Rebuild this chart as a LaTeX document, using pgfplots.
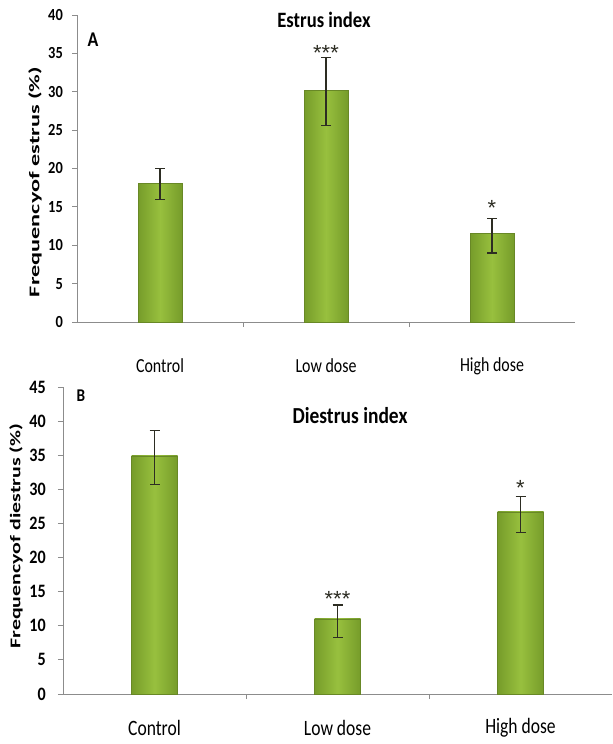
\documentclass[border=0pt]{standalone}
\usepackage{pgfplots}
\pgfplotsset{compat=1.18}
\usepackage{pgfplotstable}
\usepackage{fontspec}
\setmainfont{Carlito}
\newfontfamily\cond{Carlito}[FakeStretch=0.8]
\newfontfamily\condb{Carlito Bold}[FakeStretch=0.85]
\newfontfamily\starf{Liberation Sans}
\definecolor{barmid}{RGB}{152,192,62}
\definecolor{barside}{RGB}{118,156,42}
\definecolor{baredge}{RGB}{104,136,38}
\definecolor{axgray}{RGB}{140,140,140}
\definecolor{errc}{RGB}{45,45,35}

\pgfplotstableread{
x y ep em
0 18.1 1.95 2.1
1 30.2 4.3 4.6
2 11.55 1.95 2.55
}\estrus
\pgfplotstableread{
x y ep em
0 34.9 3.7 4.2
1 11.0 2.05 2.75
2 26.7 2.3 3.05
}\diestrus

\pgfplotsset{
  panel/.style={
    scale only axis,
    xmin=-0.5, xmax=2.5, ymin=0,
    axis x line*=bottom, axis y line*=left,
    axis line style={axgray, line width=0.9bp, -},
    tick align=outside,
    major tick length=5bp, minor tick length=5bp,
    xtick={0,1,2},
    xticklabels={Control, Low dose, High dose},
    major x tick style={draw=none},
    minor x tick num=1,
    minor x tick style={draw=axgray, line width=0.6bp},
    y tick style={draw=axgray, line width=0.8bp},
    /pgf/number format/assume math mode=true,
    clip=false,
  },
  bars/.style={
    ybar, bar width=#1, bar shift=0pt, draw=baredge, line width=0.6bp,
    left color=barside, right color=barside, middle color=barmid,
    error bars/.cd, y dir=both, y explicit,
    error mark=|,
    error bar style={color=errc, line width=1.2bp},
    error mark options={color=errc, line width=1.2bp, mark size=5bp},
    /pgfplots/.cd,
  },
  stars/.style={only marks, mark=none, nodes near coords, point meta=explicit symbolic,
    nodes near coords style={anchor=center, inner sep=0pt,
      font=\starf\fontsize{22}{22}\selectfont, text=errc}},
}

\begin{document}
\begin{tikzpicture}[x=1bp,y=1bp]
\path (0,0) rectangle (612,744);

% ---------- Panel A ----------
\begin{axis}[panel,
  at={(77bp,422bp)}, anchor=south west,
  width=498bp, height=307bp,
  ymax=40, ytick={0,5,...,40},
  yticklabel style={font=\condb\fontsize{17}{17}\selectfont, anchor=east, inner sep=0pt, xshift=-9bp},
  xticklabel style={font=\cond\fontsize{20}{20}\selectfont, anchor=center, inner sep=0pt, yshift=-39bp},
]
\pgfplotsinvokeforeach{0,1,2}{
  \addplot[restrict x to domain=#1:#1, bars=44bp]
    table[x=x, y=y, y error plus=ep, y error minus=em] {\estrus};
}
\addplot[stars] coordinates {(1,35.0) [***] (2,14.9) [*]};
\end{axis}

% ---------- Panel B ----------
\begin{axis}[panel,
  at={(63bp,50bp)}, anchor=south west,
  width=549bp, height=307bp,
  ymax=45, ytick={0,5,...,45},
  yticklabel style={font=\condb\fontsize{19}{19}\selectfont, anchor=east, inner sep=0pt, xshift=-12bp},
  xticklabel style={font=\cond\fontsize{22}{22}\selectfont, anchor=center, inner sep=0pt, yshift=-29bp},
]
\pgfplotsinvokeforeach{0,1,2}{
  \addplot[restrict x to domain=#1:#1, bars=46bp]
    table[x=x, y=y, y error plus=ep, y error minus=em] {\diestrus};
}
\addplot[stars] coordinates {(1,14.0) [***] (2,30.2) [*]};
\end{axis}

% ---------- titles, panel letters, axis labels ----------
\node[anchor=base, inner sep=0pt, font=\condb\fontsize{22}{22}\selectfont] at (324,716) {Estrus index};
\node[anchor=base, inner sep=0pt, font=\condb\fontsize{23}{23}\selectfont] at (350,320) {Diestrus index};
\node[anchor=center, inner sep=0pt, font=\condb\fontsize{21}{21}\selectfont] at (93,704) {A};
\node[anchor=center, inner sep=0pt, font=\condb\fontsize{18}{18}\selectfont] at (81,348) {B};
\node[anchor=center, inner sep=0pt, rotate=90] at (35,562)
  {\resizebox{230bp}{11bp}{\bfseries Frequencyof estrus (\%)}};
\node[anchor=center, inner sep=0pt, rotate=90] at (16,208)
  {\resizebox{225bp}{11bp}{\bfseries Frequencyof diestrus (\%)}};
\end{tikzpicture}
\end{document}
